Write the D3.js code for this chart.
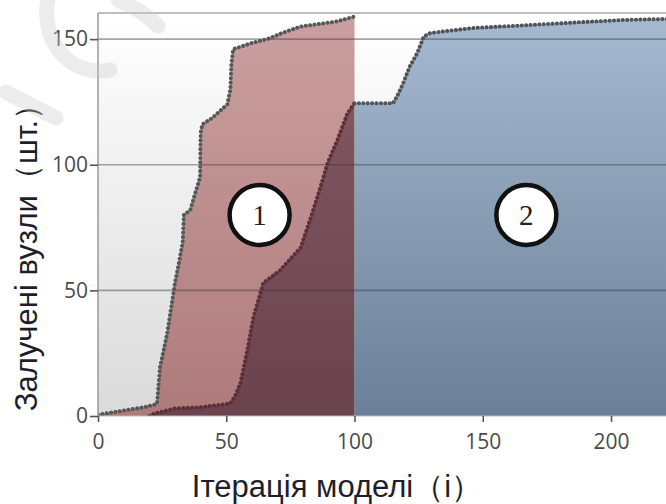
<!DOCTYPE html>
<meta charset="utf-8">
<script src="https://d3js.org/d3.v7.min.js"></script>
<style>
  body { margin: 0; background: #fff; }
</style>
<div id="chart"></div>
<script>
// region 1 upper boundary (grey dotted line)
var iterA  = [0, 6, 12, 18, 22, 23, 24.2, 27, 30, 31, 33, 33.5, 36, 38, 39.8, 40, 40.6, 44.5, 50.4, 51.6, 52, 52.7, 54.3, 60, 66, 72, 79, 86, 93, 100];
var nodesA = [0.5, 1.5, 2.5, 3.5, 4.5, 5, 19.5, 33, 53, 58, 69, 80, 82, 89, 95, 112.6, 116, 118.6, 124, 130, 140, 146, 146.5, 148.5, 150, 152.5, 155, 156, 157, 159];
// region 1 inner (dark red dotted line)
var iterB  = [20, 22, 30, 40, 51.6, 53.5, 55.5, 58.2, 60.5, 64.5, 71, 79, 83, 86.7, 89.5, 93.4, 97.3, 100];
var nodesB = [0, 1, 3, 3.5, 5, 8, 13, 26, 39, 53, 58, 67, 79, 91, 100.6, 110, 120.5, 124.5];
// region 2 (blue)
var iterC  = [100, 115, 116.5, 119, 121.5, 124.5, 127, 129.5, 146, 168, 204, 220, 250];
var nodesC = [124.5, 124.5, 127, 132.5, 139, 144.5, 151, 152.4, 154.4, 155.6, 157.6, 158, 158.4];

var xTicks = [0, 50, 100, 150, 200];
var yTicks = [0, 50, 100, 150];
var regionLabels = ["1", "2"];
var regionAt = [[63, 80], [167, 80]]; // [iteration, nodes] for the circled numbers

var W = 666, H = 504;
var margin = {left: 98, top: 13, bottom: 88};
var x = d3.scaleLinear().domain([0, 250]).range([margin.left, margin.left + 250 * 2.565]);
var y = d3.scaleLinear().domain([0, 160]).range([H - margin.bottom, margin.top + 1]);

var svg = d3.select("#chart").append("svg").attr("width", W).attr("height", H);
var defs = svg.append("defs");

function vgrad(id, top, bottom) {
  var g = defs.append("linearGradient").attr("id", id)
    .attr("x1", 0).attr("y1", 0).attr("x2", 0).attr("y2", 1);
  g.append("stop").attr("offset", "0%").attr("stop-color", top);
  g.append("stop").attr("offset", "100%").attr("stop-color", bottom);
}
vgrad("bg", "#ffffff", "#dadada");
vgrad("pink", "#cb9f9f", "#ae7b7b");
vgrad("maroon", "#80565f", "#6a434f");
vgrad("blue", "#a5bad0", "#6b8098");

defs.append("clipPath").attr("id", "plot")
  .append("rect").attr("x", margin.left).attr("y", margin.top)
  .attr("width", W - margin.left).attr("height", y(0) - margin.top);

// plot background
svg.append("rect").attr("x", margin.left).attr("y", margin.top)
  .attr("width", W - margin.left).attr("height", y(0) - margin.top)
  .attr("fill", "url(#bg)");

var plot = svg.append("g").attr("clip-path", "url(#plot)");

function pts(xs, ys) { return xs.map(function(d, i) { return [d, ys[i]]; }); }
var A = pts(iterA, nodesA), B = pts(iterB, nodesB), C = pts(iterC, nodesC);

var area = d3.area().x(function(d) { return x(d[0]); }).y0(y(0)).y1(function(d) { return y(d[1]); });
var line = d3.line().x(function(d) { return x(d[0]); }).y(function(d) { return y(d[1]); });

plot.append("path").datum(A).attr("d", area).attr("fill", "url(#pink)");
plot.append("path").datum(B).attr("d", area).attr("fill", "url(#maroon)");
plot.append("path").datum(C).attr("d", area).attr("fill", "url(#blue)");

// horizontal grid lines
plot.selectAll(".grid").data(yTicks.slice(1)).enter().append("line")
  .attr("x1", margin.left).attr("x2", W)
  .attr("y1", function(d) { return y(d); }).attr("y2", function(d) { return y(d); })
  .attr("stroke", "#3c3c3c").attr("stroke-opacity", 0.45).attr("stroke-width", 1.6);

// dotted series lines
function dotted(data, color) {
  plot.append("path").datum(data).attr("d", line)
    .attr("fill", "none").attr("stroke", color).attr("stroke-width", 4)
    .attr("stroke-linecap", "round").attr("stroke-dasharray", "0.1 4.3");
}
dotted(A, "#575757");
dotted(B, "#5e2e36");
dotted(C, "#505459");

// frame
svg.append("line").attr("x1", margin.left).attr("x2", W).attr("y1", margin.top).attr("y2", margin.top)
  .attr("stroke", "#a8a8a8").attr("stroke-width", 1.5);
svg.append("line").attr("x1", margin.left).attr("x2", margin.left).attr("y1", margin.top).attr("y2", y(0))
  .attr("stroke", "#999").attr("stroke-width", 1.5);
svg.append("line").attr("x1", margin.left).attr("x2", W).attr("y1", y(0)).attr("y2", y(0))
  .attr("stroke", "#bbb").attr("stroke-width", 1);

// axes
var yAxis = svg.append("g").attr("transform", "translate(" + margin.left + ",0)")
  .call(d3.axisLeft(y).tickValues(yTicks).tickSize(8).tickPadding(2));
var xAxis = svg.append("g").attr("transform", "translate(0," + y(0) + ")")
  .call(d3.axisBottom(x).tickValues(xTicks).tickSize(6).tickPadding(12));
[xAxis, yAxis].forEach(function(g) {
  g.select(".domain").remove();
  g.selectAll(".tick line").attr("stroke", "#555").attr("stroke-width", 1.6);
  g.selectAll(".tick text").attr("fill", "#4a4a4a").style("font-family", "'Open Sans', sans-serif").style("font-size", "21px");
});

// circled region numbers
var marks = svg.selectAll(".mark").data(regionLabels).enter().append("g")
  .attr("transform", function(d, i) { return "translate(" + x(regionAt[i][0]) + "," + y(regionAt[i][1]) + ")"; });
marks.append("circle").attr("r", 30).attr("fill", "#fff").attr("stroke", "#111").attr("stroke-width", 4.5);
marks.append("text").text(function(d) { return d; })
  .attr("text-anchor", "middle").attr("dy", "0.35em")
  .style("font-family", "'Liberation Serif', serif").style("font-size", "29px").attr("fill", "#222");

// axis titles
svg.append("text").attr("x", 337).attr("y", 497).attr("text-anchor", "middle")
  .style("font-family", "'Liberation Sans', Arial, sans-serif").style("font-size", "31px").attr("fill", "#1e1e2a")
  .text("Ітерація моделі（і）");
svg.append("text").attr("transform", "translate(37,250) rotate(-90)").attr("text-anchor", "middle")
  .style("font-family", "'Liberation Sans', Arial, sans-serif").style("font-size", "31px").attr("fill", "#1e1e2a")
  .text("Залучені вузли（шт.）");

// faint watermark strokes
var wm = svg.append("g").attr("fill", "none").attr("stroke", "#c8c8c8").attr("stroke-opacity", 0.35)
  .attr("stroke-width", 15).attr("stroke-linecap", "round");
wm.append("path").attr("d", "M48,0 C40,40 70,78 110,70");
wm.append("path").attr("d", "M118,0 Q142,10 158,26");
wm.append("path").attr("d", "M6,92 L56,118");
</script>
